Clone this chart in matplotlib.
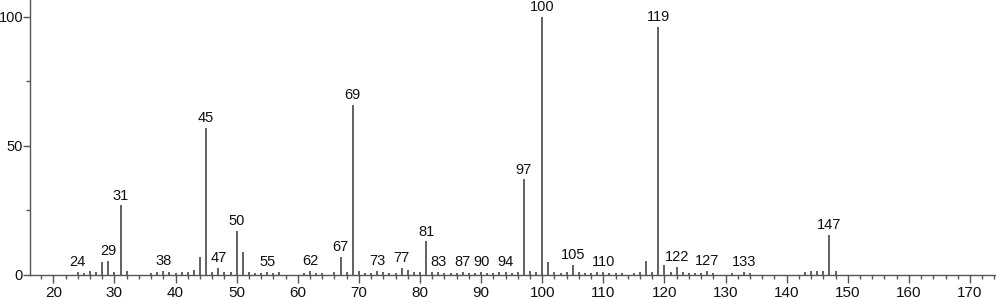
import matplotlib.pyplot as plt
from matplotlib.ticker import MultipleLocator

plt.rcParams['font.family'] = ['Liberation Sans', 'DejaVu Sans']

mz = [24, 25, 26, 27, 28, 29, 30, 31, 32, 36, 37, 38, 39, 40, 41, 42, 43, 44, 45, 46,
      47, 48, 49, 50, 51, 52, 53, 54, 55, 56, 57, 61, 62, 63, 64, 66, 67, 68, 69, 70,
      71, 72, 73, 74, 75, 76, 77, 78, 79, 80, 81, 82, 83, 84, 85, 86, 87, 88, 89, 90,
      91, 92, 93, 94, 95, 96, 97, 98, 99, 100, 101, 102, 103, 104, 105, 106, 107, 108,
      109, 110, 111, 112, 113, 115, 116, 117, 118, 119, 120, 121, 122, 123, 124, 125,
      126, 127, 128, 131, 133, 134, 143, 144, 145, 146, 147, 148]
intensity = [1.2, 0.8, 1.5, 1.2, 5.0, 5.5, 1.0, 27.0, 1.5, 0.8, 1.2, 1.5, 1.0, 0.8, 1.0, 1.2, 2.0, 7.0, 57.0, 1.2,
             2.8, 1.0, 1.2, 17.0, 9.0, 1.0, 0.8, 0.8, 1.2, 0.8, 1.0, 0.8, 1.5, 0.8, 0.8, 1.0, 7.0, 1.0, 66.0, 1.5,
             0.8, 0.8, 1.5, 1.0, 0.8, 0.8, 2.7, 2.0, 1.0, 1.0, 13.0, 1.2, 1.2, 0.8, 0.8, 0.8, 1.2, 0.8, 0.8, 1.2,
             0.8, 0.8, 1.0, 1.2, 0.8, 1.0, 37.0, 1.5, 1.2, 100.0, 5.0, 1.2, 0.8, 1.0, 4.0, 1.0, 0.8, 0.8,
             1.0, 1.2, 0.8, 0.8, 0.8, 0.8, 1.0, 5.5, 1.0, 96.0, 4.0, 1.0, 3.0, 1.0, 0.8, 0.8,
             0.8, 1.5, 0.8, 0.8, 1.2, 0.8, 1.0, 1.5, 1.5, 1.5, 15.5, 1.5]
labeled = [24, 29, 31, 38, 45, 47, 50, 55, 62, 67, 69, 73, 77, 81, 83, 87, 90, 94,
           97, 100, 105, 110, 119, 122, 127, 133, 147]

fig = plt.figure(figsize=(9.96, 2.99), dpi=100)
ax = fig.add_axes([30 / 996, 24 / 299, 966 / 996, 275 / 299])

ax.vlines(mz, 0, intensity, color='#555555', linewidth=1.3)

peak = dict(zip(mz, intensity))
for m in labeled:
    ax.annotate(str(m), (m, peak[m]), xytext=(0, 2), textcoords='offset points',
                ha='center', va='bottom', fontsize=10.5, color='#111111')

ax.set_xlim(16.19, 174.26)
ax.set_ylim(0, 106.5)
ax.xaxis.set_major_locator(MultipleLocator(10))
ax.xaxis.set_minor_locator(MultipleLocator(2))
ax.yaxis.set_major_locator(MultipleLocator(50))
ax.yaxis.set_minor_locator(MultipleLocator(25))
ax.tick_params(axis='both', which='major', length=6, width=1, color='#555555',
               labelcolor='#111111')
ax.tick_params(axis='both', which='minor', length=3, width=1, color='#555555')
ax.tick_params(axis='x', which='major', labelsize=11, pad=2)
ax.tick_params(axis='y', which='major', labelsize=10.5, length=5, pad=0)

for s in ['top', 'right']:
    ax.spines[s].set_visible(False)
for s in ['left', 'bottom']:
    ax.spines[s].set_color('#555555')
    ax.spines[s].set_linewidth(1)

fig.savefig('out.png', dpi=100)
